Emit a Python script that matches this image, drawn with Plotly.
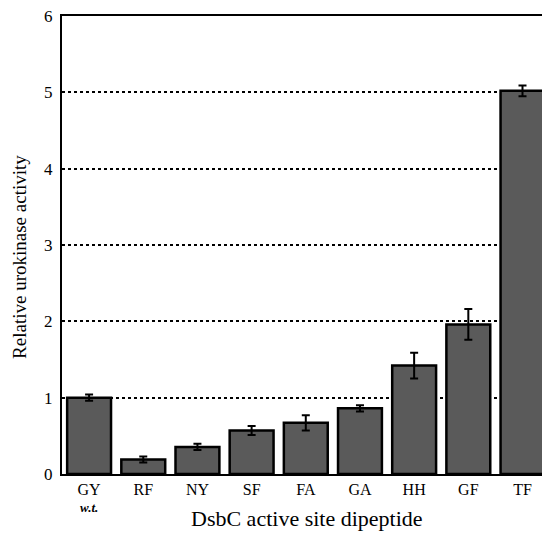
import plotly.graph_objects as go

categories = ["GY", "RF", "NY", "SF", "FA", "GA", "HH", "GF", "TF"]
tick_labels = ["GY", "RF", "NY", "SF", "FA", "GA", "HH", "GF", "TF"]
wt_label = "w.t."
activity = [1.0, 0.19, 0.355, 0.57, 0.67, 0.86, 1.42, 1.96, 5.02]
error = [0.04, 0.04, 0.04, 0.06, 0.10, 0.04, 0.17, 0.20, 0.07]
y_ticks = [0, 1, 2, 3, 4, 5, 6]

fig = go.Figure()
fig.add_trace(go.Bar(
    x=list(range(len(categories))),
    y=activity,
    width=0.81,
    marker=dict(color="#5a5a5a", line=dict(color="black", width=2.5)),
    error_y=dict(type="data", array=error, visible=True, color="black", thickness=2, width=4),
))

font_family = "Liberation Serif"
fig.update_layout(
    width=542, height=534,
    margin=dict(l=62, r=0, t=16, b=60, autoexpand=False),
    plot_bgcolor="white", paper_bgcolor="white",
    showlegend=False,
    font=dict(family=font_family, color="black"),
    xaxis=dict(
        range=[-0.5, 8.36],
        automargin=False,
        tickmode="array",
        tickvals=list(range(len(categories))),
        ticktext=tick_labels,
        tickfont=dict(size=16, family=font_family),
        showline=True, linecolor="black", linewidth=2,
        mirror=True,
        showgrid=False, ticks="", zeroline=False,
    ),
    yaxis=dict(
        range=[0, 6],
        automargin=False,
        tickmode="array",
        tickvals=y_ticks,
        ticktext=[str(v) for v in y_ticks],
        tickfont=dict(size=17, family=font_family),
        ticklabeloverflow="allow",
        ticklabelstandoff=4,
        showline=True, linecolor="black", linewidth=2,
        showgrid=True, gridcolor="black", gridwidth=1.8, griddash="dot",
        zeroline=False, ticks="", ticklen=0,
    ),
    annotations=[
        dict(text="Relative urokinase activity", xref="paper", yref="paper",
             x=-0.0875, y=0.474, xanchor="center", yanchor="middle", textangle=-90,
             showarrow=False, font=dict(size=19, family=font_family)),
        dict(text="DsbC active site dipeptide", xref="paper", yref="paper",
             x=(307 - 62) / 480, y=-0.098, xanchor="center", yanchor="middle",
             showarrow=False, font=dict(size=22, family=font_family)),
        dict(text="<b><i>" + wt_label + "</i></b>", xref="x", yref="paper",
             x=0, y=-0.073, xanchor="center", yanchor="middle",
             showarrow=False, font=dict(size=13, family=font_family)),
    ],
)

fig.write_html("out.html", config={"displayModeBar": False},
               post_script="document.body.style.margin='0';")
